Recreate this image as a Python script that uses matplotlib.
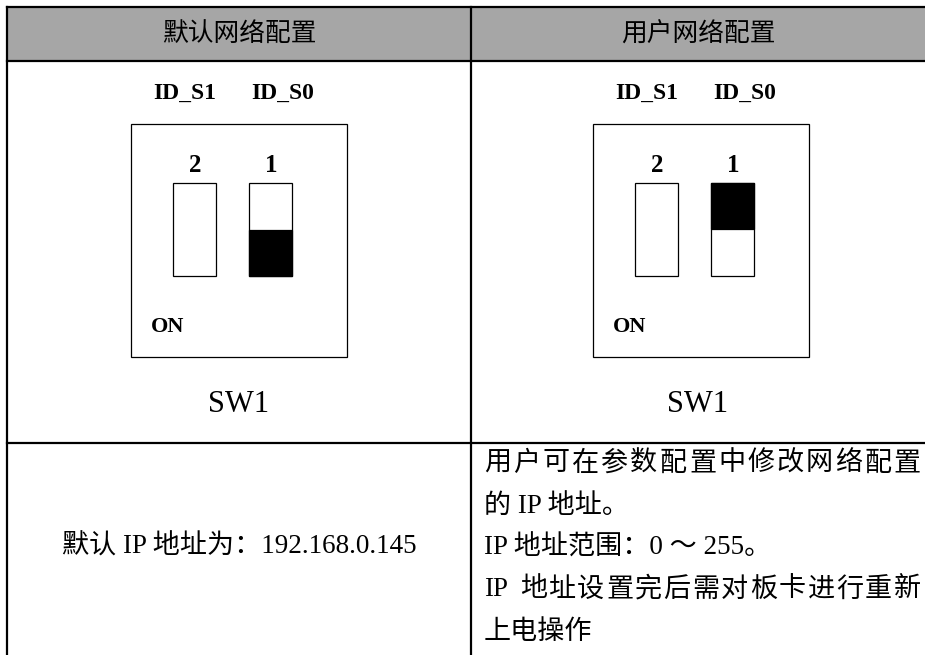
import matplotlib
matplotlib.use('Agg')
import matplotlib.pyplot as plt
from matplotlib.patches import Rectangle

### Table content
column_headers = ['默认网络配置', '用户网络配置']
switch_names = ['ID_S1', 'ID_S0']
switch_numbers = ['2', '1']
# position of the black lever inside each switch (None = no lever drawn)
lever_default = [None, 'bottom']
lever_user = [None, 'top']
switch_title = 'SW1'
on_label = 'ON'
default_text = '默认 IP 地址为：192.168.0.145'
user_text = ['用户可在参数配置中修改网络配置',
             '的 IP 地址。',
             'IP 地址范围：0 ～ 255。',
             'IP 地址设置完后需对板卡进行重新',
             '上电操作']
justified = [True, False, False, True, False]

# table grid in pixel units
col_edges = [7, 471, 935]
row_edges = [7, 61, 443, 700]

latin = ['Liberation Serif', 'Noto Sans CJK SC']
cjk = ['Noto Sans CJK SC', 'Liberation Serif']

fig = plt.figure(figsize=(9.25, 6.55), dpi=100)
ax = fig.add_axes([0, 0, 1, 1])
ax.set_xlim(0, 925)
ax.set_ylim(655, 0)
ax.axis('off')
renderer = fig.canvas.get_renderer()

### Header background + grid lines
ax.add_patch(Rectangle((col_edges[0], row_edges[0]), col_edges[-1] - col_edges[0],
                       row_edges[1] - row_edges[0], facecolor='#a6a6a6', edgecolor='none', zorder=0))
for y in row_edges[:3]:
    ax.plot([col_edges[0], col_edges[-1]], [y, y], color='black', lw=1.6, solid_capstyle='projecting')
for x in col_edges:
    ax.plot([x, x], [row_edges[0], row_edges[-1]], color='black', lw=1.6, solid_capstyle='projecting')


def draw_dip(x0, levers):
    # outer switch box
    ax.add_patch(Rectangle((x0, 124), 216, 233, facecolor='none', edgecolor='black', lw=0.9))
    for i, (name, num, lev) in enumerate(zip(switch_names, switch_numbers, levers)):
        sx = x0 + 42 + i * 76
        ax.text(x0 + 54 + i * 98, 93, name, ha='center', va='center', family=latin,
                fontsize=17, fontweight='bold')
        ax.text(sx + 22, 165, num, ha='center', va='center', family=latin,
                fontsize=18, fontweight='bold')
        ax.add_patch(Rectangle((sx, 183), 43, 93, facecolor='white', edgecolor='black', lw=0.9))
        if lev == 'bottom':
            ax.add_patch(Rectangle((sx, 230), 43, 46, facecolor='black', edgecolor='black', lw=0.9))
        elif lev == 'top':
            ax.add_patch(Rectangle((sx, 183), 43, 46, facecolor='black', edgecolor='black', lw=0.9))
    ax.text(x0 + 20, 327, on_label, ha='left', va='center', family=latin,
            fontsize=16, fontweight='bold')


centers = [239, 698]
for cx, head in zip(centers, column_headers):
    ax.text(cx, 35, head, ha='center', va='center', family=cjk, fontsize=18.5)
    ax.text(cx, 404, switch_title, ha='center', va='center', family=latin, fontsize=22)

draw_dip(131, lever_default)
draw_dip(593, lever_user)

### Bottom row text
ax.text(centers[0], 547, default_text, ha='center', va='center', family=latin, fontsize=19.5)

text_left, text_right = 484, 921
for i, (line, just) in enumerate(zip(user_text, justified)):
    y = 464 + i * 42
    if not just:
        ax.text(text_left, y, line, ha='left', va='center', family=latin, fontsize=19.5)
        continue
    # spread the characters over the full cell width, like a justified paragraph line
    if line.startswith('IP '):
        tokens = ['IP'] + list(line[3:])
    else:
        tokens = list(line)
    items = [ax.text(0, y, t, ha='left', va='center', family=latin, fontsize=19.5)
             for t in tokens]
    widths = [t.get_window_extent(renderer).width for t in items]
    if tokens[0] == 'IP':
        widths[0] += 10  # keep the word space after "IP"
    gap = (text_right - text_left - sum(widths)) / (len(items) - 1)
    x = text_left
    for t, w in zip(items, widths):
        t.set_x(x)
        x += w + gap

fig.savefig('out.png', dpi=100)
